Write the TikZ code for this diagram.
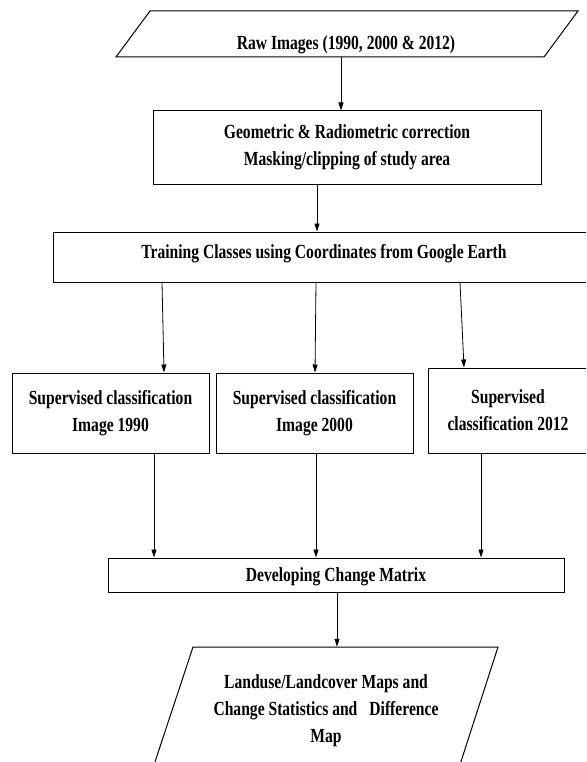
\documentclass[tikz,border=0pt]{standalone}
\usepackage{fontspec}
\setmainfont{Liberation Serif}[FakeStretch=0.78]
\usetikzlibrary{arrows.meta}
\begin{document}
\begin{tikzpicture}[x=1pt,y=-1pt,
  every node/.style={font=\bfseries\fontsize{20}{27}\selectfont, inner sep=0pt},
  box/.style={draw, line width=1pt},
  arr/.style={line width=0.8pt, -{Triangle[length=8pt,width=5pt]}},
  outline/.style={line width=1pt}]
\useasboundingbox (0,0) rectangle (586,762);
\clip (0,0) rectangle (586,762);

% parallelogram outlines
\draw[outline] (150,11) -- (578,11) -- (544,57) -- (116,57) -- cycle;
\draw[outline] (149,780) -- (193,647) -- (498,647) -- (455,780);

% nodes
\node[minimum height=46pt, text height=36pt, text depth=4pt] (raw) at (346,34) {Raw Images (1990, 2000 \& 2012)};
\node[box, minimum width=388pt, minimum height=73pt, align=center] (geo) at (347,147.5) {Geometric \& Radiometric correction\\Masking/clipping of study area};
\node[box, minimum width=542pt, minimum height=50pt, text depth=12pt] (train) at (324,257) {Training Classes using Coordinates from Google Earth};
\node[box, minimum width=197pt, minimum height=80pt, align=center] (s1) at (110.5,413) {Supervised classification\\Image 1990};
\node[box, minimum width=197pt, minimum height=80pt, align=center] (s2) at (314.5,413) {Supervised classification\\Image 2000};
\node[box, minimum width=160pt, minimum height=85pt, align=center] (s3) at (508,410.5) {Supervised\\classification 2012};
\node[box, minimum width=456pt, minimum height=34pt, text depth=0pt] (cm) at (336,575) {Developing Change Matrix};
\node[minimum height=128pt, align=center] (maps) at (326,711) {Landuse/Landcover Maps and\\Change Statistics and\hspace{12pt}Difference\\Map};

% x positions of connectors
\coordinate (xa) at (341,0);
\coordinate (xb) at (317,0);
\coordinate (xc1) at (162,0);
\coordinate (xd1) at (164,0);
\coordinate (xc2) at (316,0);
\coordinate (xd2) at (315,0);
\coordinate (xc3) at (460,0);
\coordinate (xd3) at (464,0);
\coordinate (xe1) at (154,0);
\coordinate (xe2) at (316,0);
\coordinate (xe3) at (481,0);
\coordinate (xf) at (337,0);

% connectors
\draw[arr] (xa |- raw.south) -- (xa |- geo.north);
\draw[arr] (xb |- geo.south) -- (xb |- train.north);
\draw[arr] (xc1 |- train.south) -- (xd1 |- s1.north);
\draw[arr] (xc2 |- train.south) -- (xd2 |- s2.north);
\draw[arr] (xc3 |- train.south) -- (xd3 |- s3.north);
\draw[arr] (xe1 |- s1.south) -- (xe1 |- cm.north);
\draw[arr] (xe2 |- s2.south) -- (xe2 |- cm.north);
\draw[arr] (xe3 |- s3.south) -- (xe3 |- cm.north);
\draw[arr] (xf |- cm.south) -- (xf |- maps.north);
\end{tikzpicture}
\end{document}
